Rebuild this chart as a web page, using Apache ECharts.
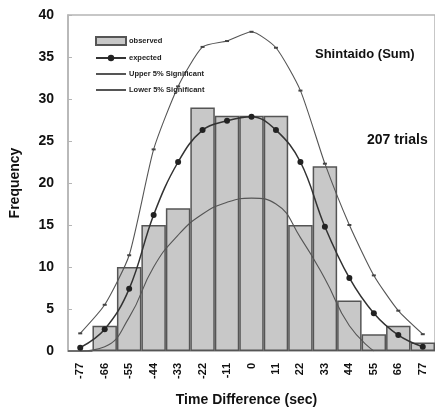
<!DOCTYPE html>
<html>
<head>
<meta charset="utf-8">
<script src="https://cdn.jsdelivr.net/npm/echarts@6/dist/echarts.min.js"></script>
<style>
  html, body { margin: 0; padding: 0; background: #fff; }
  #chart { width: 435px; height: 412px; }
</style>
</head>
<body>
<div id="chart"></div>
<script>
// Time-difference bins (sec)
var categories = ['-77', '-66', '-55', '-44', '-33', '-22', '-11', '0', '11', '22', '33', '44', '55', '66', '77'];
// Observed counts per bin (207 trials in total)
var observed = [0, 3, 10, 15, 17, 29, 28, 28, 28, 15, 22, 6, 2, 3, 1];
// Expected counts per bin
var expected = [0.4, 2.6, 7.4, 16.2, 22.5, 26.3, 27.4, 27.9, 26.3, 22.5, 14.8, 8.7, 4.5, 1.9, 0.5];
// Upper and lower 5% significance bounds
var upper = [2.1, 5.5, 11.4, 24, 31.5, 36.2, 36.9, 38, 36.1, 31, 22.3, 15, 9, 4.8, 2];
var lower = [0, 0.5, 4, 10, 13.8, 16.3, 17.7, 18.2, 17.5, 13.5, 8.6, 3, 0, null, null];
var yTicks = [0, 5, 10, 15, 20, 25, 30, 35, 40];

var FONT = '"Liberation Sans", Arial, sans-serif';
var chart = echarts.init(document.getElementById('chart'), null, { renderer: 'canvas' });

chart.setOption({
  animation: false,
  backgroundColor: '#ffffff',
  textStyle: { fontFamily: FONT },
  grid: { left: 68, top: 15, width: 372, bottom: 55, show: true, borderColor: '#b5b5b5', borderWidth: 1.5, backgroundColor: 'transparent' },
  title: [
    { text: 'Shintaido (Sum)', left: 310, top: 43, textStyle: { fontFamily: FONT, fontSize: 13, fontWeight: 'bold', color: '#111' } },
    { text: '207 trials', left: 362, top: 128, textStyle: { fontFamily: FONT, fontSize: 14, fontWeight: 'bold', color: '#111' } }
  ],
  legend: {
    orient: 'vertical',
    left: 90,
    top: 31,
    itemWidth: 30,
    itemHeight: 8,
    itemGap: 8,
    textStyle: { fontFamily: FONT, fontSize: 7.5, fontWeight: 'bold', color: '#222', padding: [0, 0, 0, -2] },
    data: [
      { name: 'observed', icon: 'rect' },
      { name: 'expected' },
      { name: 'Upper 5% Significant', itemStyle: { opacity: 0 } },
      { name: 'Lower 5% Significant', itemStyle: { opacity: 0 } }
    ]
  },
  xAxis: {
    type: 'category',
    data: categories,
    boundaryGap: true,
    name: 'Time Difference (sec)',
    nameLocation: 'middle',
    nameGap: 42,
    nameTextStyle: { fontFamily: FONT, fontSize: 14, fontWeight: 'bold', color: '#111', padding: [0, 10, 0, 0] },
    axisLine: { lineStyle: { color: '#b5b5b5', width: 1.5 } },
    axisTick: { show: false },
    axisLabel: { rotate: 90, fontFamily: FONT, fontSize: 11, fontWeight: 'bold', color: '#111', margin: 12, interval: 0 }
  },
  yAxis: {
    type: 'value',
    min: 0,
    max: 40,
    interval: 5,
    name: 'Frequency',
    nameLocation: 'middle',
    nameGap: 46,
    nameTextStyle: { fontFamily: FONT, fontSize: 14, fontWeight: 'bold', color: '#111' },
    axisLine: { show: true, lineStyle: { color: '#b5b5b5', width: 1.5 } },
    axisTick: { show: true, inside: true, length: 4, lineStyle: { color: '#b5b5b5' } },
    splitLine: { show: false },
    axisLabel: {
      fontFamily: FONT, fontSize: 14, fontWeight: 'bold', color: '#111', margin: 14,
      formatter: function (v) { return yTicks.indexOf(v) >= 0 ? String(v) : ''; }
    }
  },
  series: [
    {
      name: 'observed',
      type: 'bar',
      data: observed,
      barCategoryGap: '0%',
      itemStyle: { color: '#c8c8c8', borderColor: '#555555', borderWidth: 1.5 },
      z: 1
    },
    {
      name: 'Lower 5% Significant',
      type: 'line',
      data: lower,
      smooth: 0.5,
      symbol: 'none',
      lineStyle: { color: '#555', width: 1.1 },
      itemStyle: { color: '#555' },
      z: 3
    },
    {
      name: 'Upper 5% Significant',
      type: 'line',
      data: upper,
      smooth: 0.2,
      symbol: 'rect',
      symbolSize: [4, 2],
      lineStyle: { color: '#555', width: 1.1 },
      itemStyle: { color: '#444' },
      z: 3
    },
    {
      name: 'expected',
      type: 'line',
      data: expected,
      smooth: 0.4,
      symbol: 'circle',
      symbolSize: 6,
      lineStyle: { color: '#333', width: 1.5 },
      itemStyle: { color: '#222' },
      z: 4
    }
  ]
});
</script>
</body>
</html>
